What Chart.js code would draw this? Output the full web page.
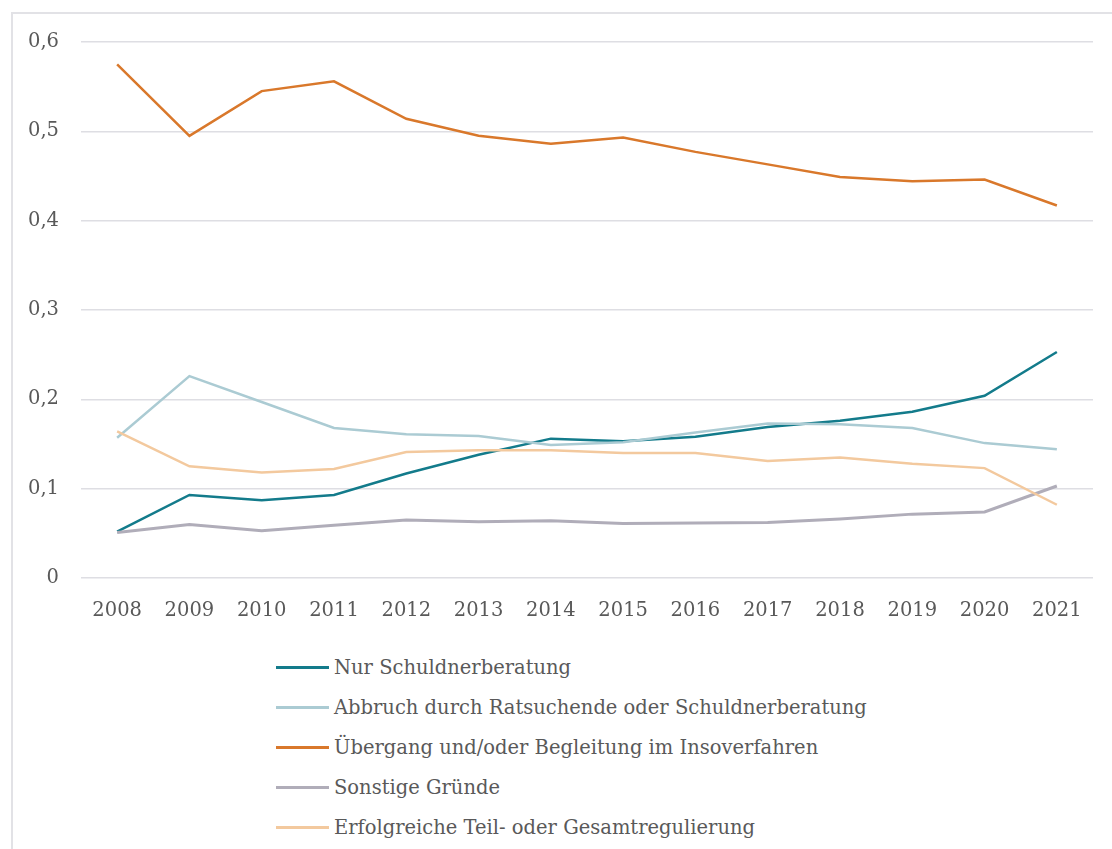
<!DOCTYPE html>
<html lang="de">
<head>
<meta charset="utf-8">
<title>Beendigungsgründe 2008–2021</title>
<script src="https://cdn.jsdelivr.net/npm/chart.js@4.4.1/dist/chart.umd.min.js"></script>
<style>
    html, body { margin: 0; padding: 0; background: #fff; overflow: hidden; }
    #wrap { position: relative; width: 1112px; height: 849px; }
    #frame {
        position: absolute; left: 11px; top: 12px;
        width: 1200px; height: 1000px;
        border-left: 2px solid #e2e2e6; border-top: 2px solid #e2e2e6;
    }
    #chart { position: absolute; left: 0; top: 0; }
    #legend {
        position: absolute; left: 276px; top: 647px;
        list-style: none; margin: 0; padding: 0;
        font-family: "DejaVu Serif", serif; font-size: 19.5px; color: #595959;
    }
    #legend li { height: 40px; display: flex; align-items: center; }
    #legend .swatch { width: 53px; height: 3px; margin-right: 5px; }
</style>
</head>
<body>
<div id="wrap">
    <div id="frame"></div>
    <canvas id="chart" width="1112" height="640"></canvas>
    <ul id="legend"></ul>
</div>
<script>
// Jahre
const years = ['2008', '2009', '2010', '2011', '2012', '2013', '2014',
               '2015', '2016', '2017', '2018', '2019', '2020', '2021'];

// Anteile je Beendigungsgrund
const nurSchuldnerberatung = [0.052, 0.093, 0.087, 0.093, 0.117, 0.138, 0.156,
                              0.153, 0.158, 0.169, 0.176, 0.186, 0.204, 0.253];
const abbruch = [0.157, 0.226, 0.197, 0.168, 0.161, 0.159, 0.149,
                 0.152, 0.163, 0.173, 0.172, 0.168, 0.151, 0.144];
const uebergangInso = [0.575, 0.495, 0.545, 0.556, 0.514, 0.495, 0.486,
                       0.493, 0.477, 0.463, 0.449, 0.444, 0.446, 0.417];
const sonstige = [0.051, 0.060, 0.053, 0.059, 0.065, 0.063, 0.064,
                  0.061, 0.0615, 0.062, 0.066, 0.0715, 0.074, 0.103];
const regulierung = [0.164, 0.125, 0.118, 0.122, 0.141, 0.143, 0.143,
                     0.140, 0.140, 0.131, 0.135, 0.128, 0.123, 0.082];

const labels = [
    'Nur Schuldnerberatung',
    'Abbruch durch Ratsuchende oder Schuldnerberatung',
    'Übergang und/oder Begleitung im Insoverfahren',
    'Sonstige Gründe',
    'Erfolgreiche Teil- oder Gesamtregulierung'
];
const colors = ['#137b8b', '#abcbd3', '#d9782b', '#b0adb9', '#f3c99e'];
const series = [nurSchuldnerberatung, abbruch, uebergangInso, sonstige, regulierung];

const fontFamily = '"DejaVu Serif", serif';
const textColor = '#595959';

const datasets = series.map(function (values, i) {
    return {
        label: labels[i],
        data: values,
        borderColor: colors[i],
        backgroundColor: colors[i],
        borderWidth: i === 3 ? 3 : 2.5,
        pointRadius: 0,
        tension: 0,
        order: series.length - i   // spätere Reihen oben zeichnen
    };
});

const chart = new Chart(document.getElementById('chart'), {
    type: 'line',
    data: { labels: years, datasets: datasets },
    options: {
        responsive: false,
        animation: false,
        layout: { padding: { left: 0, right: 19, top: 42, bottom: 12 } },
        plugins: {
            legend: { display: false },
            tooltip: { enabled: false }
        },
        scales: {
            x: {
                offset: true,
                grid: { display: false },
                border: { display: false },
                ticks: {
                    color: textColor,
                    font: { family: fontFamily, size: 19.5 },
                    padding: 13,
                    maxRotation: 0
                },
                afterFit: function (scale) { scale.height = 50; }
            },
            y: {
                min: 0,
                max: 0.6,
                grid: { color: '#dedee3', lineWidth: 1.5, drawTicks: false },
                border: { display: false },
                ticks: {
                    stepSize: 0.1,
                    color: textColor,
                    font: { family: fontFamily, size: 19.5 },
                    padding: 22,
                    callback: function (v) {
                        return v === 0 ? '0' : v.toFixed(1).replace('.', ',');
                    }
                },
                afterFit: function (scale) { scale.width = 81; }
            }
        }
    }
});

// Legende untereinander unter dem Diagramm
const legendEl = document.getElementById('legend');
chart.data.datasets.forEach(function (ds) {
    const li = document.createElement('li');
    const sw = document.createElement('span');
    sw.className = 'swatch';
    sw.style.background = ds.borderColor;
    li.appendChild(sw);
    li.appendChild(document.createTextNode(ds.label));
    legendEl.appendChild(li);
});
</script>
</body>
</html>
